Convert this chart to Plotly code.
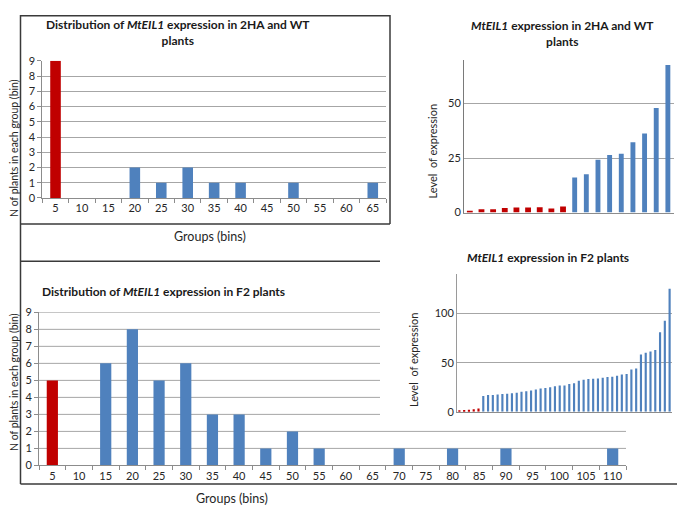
import plotly.graph_objects as go

# canvas helpers (screen pixel -> paper); the page puts the figure 8px in from the corner
W, H = 685, 518
OFF = 8


def px(x):
    return (x - OFF) / W


def py(y):
    return 1 - (y - OFF) / H


RED = '#C00000'
BLUE = '#4F81BD'
GRID = '#A6A6A6'
AXIS = '#8C8C8C'
FRAME = '#3a3a3a'
FONT = 'Lato, "Open Sans", sans-serif'

# --- data: histogram of 2HA and WT plants
wt_bins = ['5', '10', '15', '20', '25', '30', '35', '40', '45', '50', '55', '60', '65']
wt_counts = [9, 0, 0, 2, 1, 2, 1, 1, 0, 1, 0, 0, 1]

# --- data: expression level of 2HA (red) and WT (blue) plants
wt_red_expr = [0.75, 1.5, 1.5, 2.1, 2.4, 2.4, 2.5, 1.9, 2.8]
wt_blue_expr = [16.1, 17.6, 24.2, 26.4, 27.0, 32.2, 36.3, 47.9, 67.6]

# --- data: histogram of F2 plants
f2_bins = ['5', '10', '15', '20', '25', '30', '35', '40', '45', '50', '55',
           '60', '65', '70', '75', '80', '85', '90', '95', '100', '105', '110']
f2_counts = [5, 0, 6, 8, 5, 6, 3, 3, 1, 2, 1, 0, 0, 1, 0, 1, 0, 1, 0, 0, 0, 1]

# --- data: expression level of F2 plants
f2_red_expr = [0.7, 1.7, 2.0, 2.7, 3.3]
f2_blue_expr = [16.0, 17.0, 17.0, 17.7, 18.0, 18.3, 19.0, 19.3, 20.3, 21.0,
                21.7, 22.7, 23.7, 24.3, 25.0, 26.0, 26.7, 26.7, 28.3, 29.0,
                31.7, 32.7, 33.3, 33.7, 34.0, 34.6, 35.3, 35.6, 36.6, 38.0,
                38.6, 43.0, 44.0, 58.4, 60.0, 61.4, 63.0, 80.9, 92.7, 125.4]

hist_ticks = [0, 1, 2, 3, 4, 5, 6, 7, 8, 9]

fig = go.Figure()

fig.add_trace(go.Bar(x=wt_bins, y=wt_counts, width=0.4,
                     marker=dict(color=[RED] + [BLUE] * (len(wt_bins) - 1), line_width=0),
                     xaxis='x', yaxis='y'))

n_r = len(wt_red_expr)
fig.add_trace(go.Bar(x=list(range(1, n_r + 1)), y=wt_red_expr, width=0.5,
                     marker=dict(color=RED, line_width=0), xaxis='x2', yaxis='y2'))
fig.add_trace(go.Bar(x=list(range(n_r + 1, n_r + len(wt_blue_expr) + 1)), y=wt_blue_expr,
                     width=0.42, marker=dict(color=BLUE, line_width=0), xaxis='x2', yaxis='y2'))

fig.add_trace(go.Bar(x=f2_bins, y=f2_counts, width=0.42,
                     marker=dict(color=[RED] + [BLUE] * (len(f2_bins) - 1), line_width=0),
                     xaxis='x3', yaxis='y3'))

m_r = len(f2_red_expr)
fig.add_trace(go.Bar(x=list(range(1, m_r + 1)), y=f2_red_expr, width=0.45,
                     marker=dict(color=RED, line_width=0), xaxis='x4', yaxis='y4'))
fig.add_trace(go.Bar(x=list(range(m_r + 1, m_r + len(f2_blue_expr) + 1)), y=f2_blue_expr,
                     width=0.45, marker=dict(color=BLUE, line_width=0), xaxis='x4', yaxis='y4'))

tick_font = dict(family=FONT, size=11, color='#262626')

hist_x = dict(type='category', tickson='boundaries', ticks='outside', ticklen=4,
              tickcolor=AXIS, showline=True, linecolor=AXIS, linewidth=1, tickangle=0,
              showgrid=False, tickfont=tick_font, fixedrange=True)
hist_y = dict(range=[0, 9], tickvals=hist_ticks, ticks='outside', ticklen=4,
              tickcolor=AXIS, showline=True, linecolor=AXIS, linewidth=1,
              zeroline=False, tickfont=tick_font, gridcolor=GRID, gridwidth=1)

fig.update_layout(
    width=W, height=H, autosize=False,
    margin=dict(l=0, r=0, t=0, b=0),
    paper_bgcolor='white', plot_bgcolor='rgba(0,0,0,0)',
    showlegend=False, barmode='overlay',
    font=dict(family=FONT, color='#262626'),
    xaxis=dict(hist_x, domain=[px(42.3), px(386)], anchor='y'),
    yaxis=dict(hist_y, domain=[py(195.7), py(55)], anchor='x', showgrid=True),
    xaxis2=dict(domain=[px(464), px(673.7)], anchor='y2', range=[0.5, 18.5],
                showticklabels=False, showline=True, linecolor=AXIS, showgrid=False,
                zeroline=False),
    yaxis2=dict(domain=[py(210.7), py(54)], anchor='x2', range=[0, 70],
                tickvals=[0, 25, 50], showline=True, linecolor='#7a7a7a',
                gridcolor=GRID, zeroline=False, tickfont=tick_font, ticks=''),
    xaxis3=dict(hist_x, domain=[px(39), px(626)], anchor='y3'),
    yaxis3=dict(hist_y, domain=[py(470), py(313)], anchor='x3', showgrid=False),
    xaxis4=dict(domain=[px(457), px(672)], anchor='y4', range=[0.5, 45.5],
                showticklabels=False, showline=True, linecolor=AXIS, showgrid=False,
                zeroline=False),
    yaxis4=dict(domain=[py(415), py(274)], anchor='x4', range=[0, 140],
                tickvals=[0, 50, 100], showline=True, linecolor='#9a9a9a',
                gridcolor=GRID, zeroline=False, tickfont=tick_font, ticks=''),
)

shapes = []
# gridlines of the F2 histogram, partly hidden behind the F2 inset
for v in hist_ticks[1:]:
    shapes.append(dict(type='line', xref='paper', yref='y3',
                       x0=px(39), x1=px(626) if v <= 2 else px(380), y0=v, y1=v,
                       line=dict(color=GRID, width=1), layer='below'))

# frame lines of the composite
frame = [
    (20.5, 8.8, 390, 8.8),
    (20.5, 8, 20.5, 489),
    (390, 8, 390, 222.5),
    (20.5, 222.5, 390, 222.5),
    (20.5, 260.5, 380, 260.5),
    (20.5, 489, 690, 489),
]
for x0, y0, x1, y1 in frame:
    shapes.append(dict(type='line', xref='paper', yref='paper',
                       x0=px(x0), y0=py(y0), x1=px(x1), y1=py(y1),
                       line=dict(color=FRAME, width=1.5)))
fig.update_layout(shapes=shapes)

title_font = dict(family=FONT, size=12, color='#1a1a1a')
ytitle_font = dict(family=FONT, size=10.5, color='#262626')
xtitle_font = dict(family=FONT, size=12.5, color='#262626')
inset_font = dict(family=FONT, size=11, color='#262626')


def note(text, x, y, font, angle=0, xanchor='center'):
    fig.add_annotation(text=text, x=px(x), y=py(y), xref='paper', yref='paper',
                       showarrow=False, xanchor=xanchor, yanchor='middle',
                       textangle=angle, font=font)


note('<b>Distribution of <i>MtEIL1</i> expression in 2HA and WT<br>plants</b>', 178, 25.5, title_font)
note('<b><i>MtEIL1</i> expression in 2HA and WT<br>plants</b>', 562, 26.5, title_font)
note('<b>Distribution of <i>MtEIL1</i> expression in F2 plants</b>', 40, 292, title_font, xanchor='left')
note('<b><i>MtEIL1</i> expression in F2 plants</b>', 548, 257, title_font)

note('N of plants in each group (bin)', 13.5, 145, ytitle_font, angle=-90)
note('N of plants in each group (bin)', 13.5, 385, ytitle_font, angle=-90)
note('Groups (bins)', 210, 235, xtitle_font)
note('Groups (bins)', 232, 504, xtitle_font)
note('Level\u00a0 of expression', 432, 148, inset_font, angle=-90)
note('Level\u00a0 of expression', 413, 362, inset_font, angle=-90)

fig.write_html('out.html')
